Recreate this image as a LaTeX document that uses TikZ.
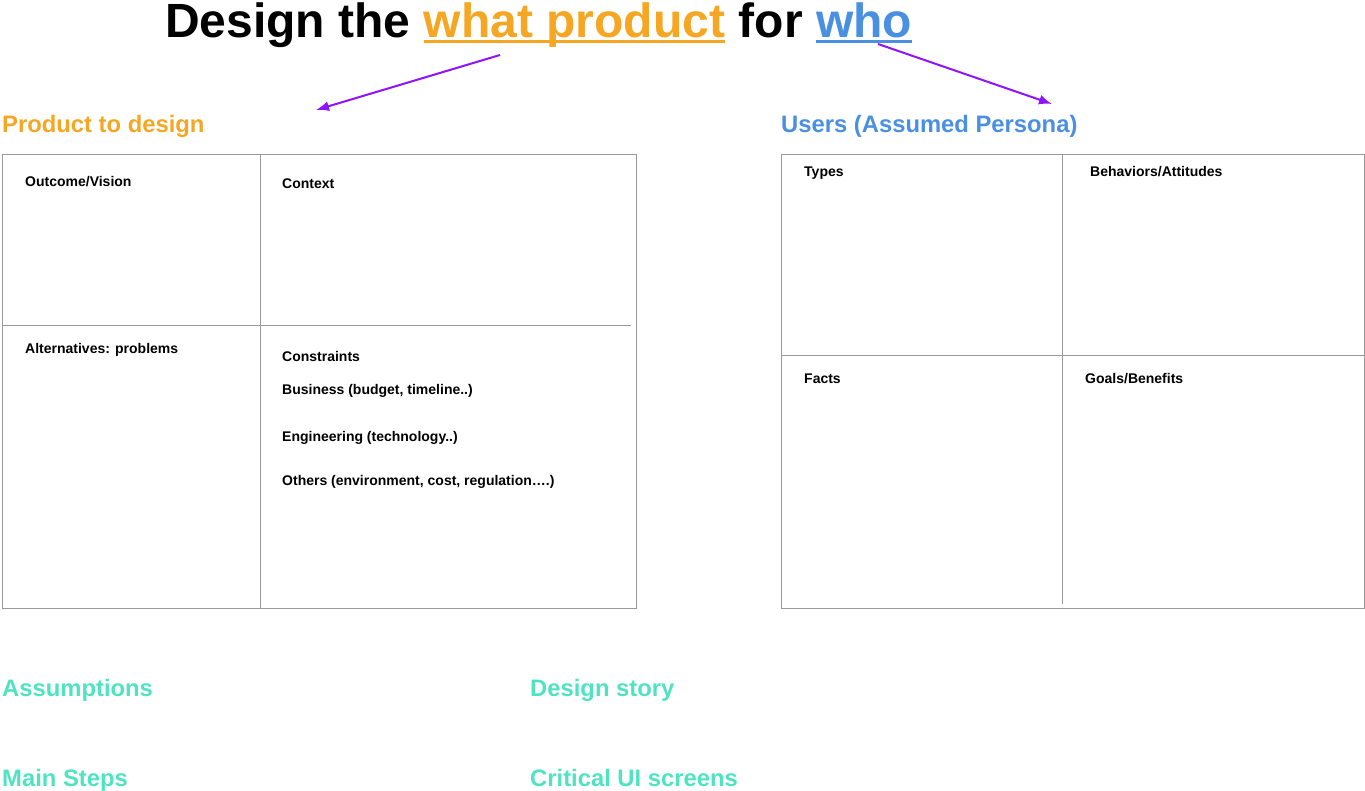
\documentclass[tikz,border=0pt]{standalone}
\usepackage{fontspec}
\setmainfont{Liberation Sans}
\usetikzlibrary{arrows.meta}
\definecolor{org}{HTML}{F5A623}
\definecolor{blu}{HTML}{4A90E2}
\definecolor{tea}{HTML}{50E3C2}
\definecolor{pur}{HTML}{9013FE}
\begin{document}
\begin{tikzpicture}[x=1pt,y=-1pt,
 lbl/.style={anchor=base west,inner sep=0pt,font=\fontsize{14}{16}\selectfont\bfseries},
 head/.style={anchor=base west,inner sep=0pt,font=\fontsize{23.8}{28}\selectfont\bfseries},
 tt/.style={anchor=base west,inner sep=0pt,font=\fontsize{48}{54}\selectfont\bfseries},
 box/.style={draw=gray!80,line width=0.8pt},
 arr/.style={draw=pur,line width=2pt,-{Latex[length=13pt,width=10pt]}}]
\useasboundingbox (0,0) rectangle (1365,791);
\node[tt] (t1) at (165,38) {Design the};
\node[tt,text=org] (t2) at ([xshift=13pt]t1.base east) {what product};
\node[tt] (t3) at ([xshift=13pt]t2.base east) {for};
\node[tt,text=blu] (t4) at ([xshift=13pt]t3.base east) {who};
\draw[org,line width=3pt] ([yshift=-4pt]t2.base west) -- ([yshift=-4pt]t2.base east);
\draw[blu,line width=3pt] ([yshift=-4pt]t4.base west) -- ([yshift=-4pt]t4.base east);
\coordinate (a1) at (500,55); \coordinate (a1e) at (316,110);
\coordinate (a2) at (878,44); \coordinate (a2e) at (1052,104);
\draw[arr] (a1) -- (a1e);
\draw[arr] (a2) -- (a2e);
\node[head,text=org] (h1) at (2,133) {Product to design};
\node[head,text=blu] (h2) at (781,133) {Users (Assumed Persona)};
\draw[box] (2,154) rectangle (636,608);
\draw[box] (260,154) -- (260,608);
\draw[box] (2,325) -- (631,325);
\draw[box] (781,154) rectangle (1364,608);
\draw[box] (1062,154) -- (1062,604);
\draw[box] (781,355) -- (1364,355);
\node[lbl] (l1) at (25,187) {Outcome/Vision};
\node[lbl] (l2) at (282,189) {Context};
\node[lbl] (l3) at (25,354) {Alternatives: problems};
\node[lbl] (l4) at (282,362) {Constraints};
\node[lbl] (l5) at (282,395) {Business (budget, timeline..)};
\node[lbl] (l6) at (282,441) {Engineering (technology..)};
\node[lbl] (l7) at (282,485) {Others (environment, cost, regulation….)};
\node[lbl] (r1) at (804,177) {Types};
\node[lbl] (r2) at (1090,177) {Behaviors/Attitudes};
\node[lbl] (r3) at (804,384) {Facts};
\node[lbl] (r4) at (1085,384) {Goals/Benefits};
\node[head,text=tea] (b1) at (2,696) {Assumptions};
\node[head,text=tea] (b2) at (530,696) {Design story};
\node[head,text=tea] (b3) at (2,786) {Main Steps};
\node[head,text=tea] (b4) at (530,786) {Critical UI screens};
\end{tikzpicture}
\end{document}
